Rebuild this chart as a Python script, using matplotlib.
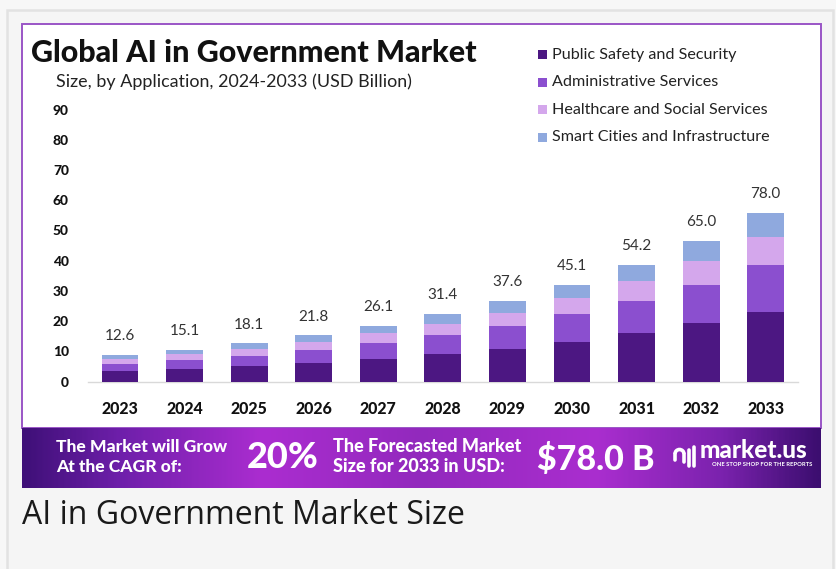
import matplotlib
matplotlib.use("Agg")
import matplotlib.pyplot as plt
import numpy as np
from matplotlib.patches import Rectangle, Arc
from matplotlib.lines import Line2D
from matplotlib.colors import LinearSegmentedColormap

# ---------------- data ----------------
years = ['2023', '2024', '2025', '2026', '2027', '2028', '2029', '2030', '2031', '2032', '2033']
public_safety = [3.6, 4.2, 5.1, 6.2, 7.5, 9.1, 10.9, 13.1, 16.1, 19.3, 23.1]
administrative = [2.3, 3.1, 3.5, 4.3, 5.2, 6.3, 7.5, 9.2, 10.6, 12.8, 15.4]
healthcare = [1.6, 1.8, 2.3, 2.75, 3.3, 3.6, 4.4, 5.4, 6.5, 7.8, 9.3]
smart_cities = [1.3, 1.4, 1.8, 2.1, 2.4, 3.4, 3.9, 4.4, 5.4, 6.6, 8.0]
total_labels = ['12.6', '15.1', '18.1', '21.8', '26.1', '31.4', '37.6', '45.1', '54.2', '65.0', '78.0']
series_names = ['Public Safety and Security', 'Administrative Services',
                'Healthcare and Social Services', 'Smart Cities and Infrastructure']
yticks = [0, 10, 20, 30, 40, 50, 60, 70, 80, 90]

colors = ['#4c1782', '#8b4fcf', '#d4a7ec', '#8fa9de']

FONT = ['Lato', 'DejaVu Sans']
plt.rcParams['font.family'] = FONT

W, H = 836, 569
fig = plt.figure(figsize=(W / 100, H / 100), dpi=100)
fig.patch.set_facecolor('#f7f7f7')


def fx(px):
    return px / W


def fy(py):
    return 1 - py / H


def frect(x0, y0, x1, y1, **kw):
    r = Rectangle((fx(x0), fy(y1)), fx(x1) - fx(x0), (y1 - y0) / H,
                  transform=fig.transFigure, **kw)
    fig.patches.append(r)
    return r


# outer card
frect(7, 10, 833, 575, facecolor='#f5f5f5', edgecolor='#e2e2e2', linewidth=1.8, zorder=0)
# white chart image with purple border
frect(22, 24, 821, 428, facecolor='white', edgecolor='#9a55c6', linewidth=1.4, zorder=1)

# ---------------- bar chart ----------------
ax_left, ax_right, ax_bottom, ax_top = 87.7, 798, 381.7, 109.5
ax = fig.add_axes([fx(ax_left), fy(ax_bottom), fx(ax_right) - fx(ax_left), (ax_bottom - ax_top) / H])
ax.set_zorder(4)
ax.set_facecolor('none')
x = np.arange(len(years))
bottom = np.zeros(len(years))
for vals, c, name in zip([public_safety, administrative, healthcare, smart_cities], colors, series_names):
    ax.bar(x, vals, width=0.57, bottom=bottom, color=c, label=name, zorder=3)
    bottom += np.array(vals)

for xi, top, lab in zip(x, bottom, total_labels):
    ax.annotate(lab, (xi, top), xytext=(0, 13.5), textcoords='offset points',
                ha='center', va='center', fontsize=11, color='#333333')

ax.set_xlim(-0.5, 10.5)
ax.set_ylim(0, 90)
ax.set_yticks(yticks)
ax.set_yticklabels([str(t) for t in yticks], fontsize=10, fontweight='black', color='#111111')
ax.set_xticks(x)
ax.set_xticklabels(years, fontsize=11.5, fontweight='black', color='#111111')
ax.tick_params(axis='y', length=0, pad=13.5)
ax.tick_params(axis='x', length=0, pad=14)
for s in ['top', 'right', 'left']:
    ax.spines[s].set_visible(False)
ax.spines['bottom'].set_color('#d9d9d9')
ax.spines['bottom'].set_linewidth(1.0)

# ---------------- titles ----------------
fig.text(fx(31), fy(53), 'Global AI in Government Market', fontsize=22, fontweight='black',
         color='#111111', ha='left', va='center', zorder=5)
fig.text(fx(56), fy(82), 'Size, by Application, 2024-2033 (USD Billion)', fontsize=12.9,
         color='#222222', ha='left', va='center', zorder=5)

# ---------------- legend ----------------
leg_rows = [54.5, 82.3, 110, 137.3]
for yy, c, name in zip(leg_rows, colors, series_names):
    frect(537.5, yy - 4.5, 546.5, yy + 4.5, facecolor=c, edgecolor='none', zorder=5)
    fig.text(fx(551.5), fy(yy), name, fontsize=11.6, color='#222222', ha='left', va='center', zorder=5)

# ---------------- banner ----------------
bx0, by0, bx1, by1 = 22, 428, 821, 488
bax = fig.add_axes([fx(bx0), fy(by1), fx(bx1) - fx(bx0), (by1 - by0) / H])
bax.set_zorder(3)
cmap = LinearSegmentedColormap.from_list('banner', [
    (0.0, '#3f1078'), (0.12, '#6e1faa'), (0.3, '#ab2dd0'), (0.5, '#9229bd'),
    (0.72, '#aa2ecf'), (0.88, '#7a22ad'), (1.0, '#3c0e70')])
grad = np.linspace(0, 1, 400).reshape(1, -1)
bax.imshow(grad, aspect='auto', cmap=cmap, extent=[0, 1, 0, 1])
bax.set_axis_off()

bt = dict(fontweight='black', color='white', ha='left', va='center', zorder=6)
fig.text(fx(56), fy(447), 'The Market will Grow', fontsize=12.6, **bt)
fig.text(fx(56), fy(467), 'At the CAGR of:', fontsize=12.6, **bt)
fig.text(fx(247), fy(458), '20%', fontsize=26, **bt)
fig.text(fx(333), fy(446), 'The Forecasted Market', fontsize=13, **bt)
fig.text(fx(333), fy(467), 'Size for 2033 in USD:', fontsize=13, **bt)
fig.text(fx(537), fy(459), '$78.0 B', fontsize=24.5, **bt)

# logo icon (simple strokes)
ic = dict(color='white', linewidth=2.6, solid_capstyle='round', transform=fig.transFigure, zorder=7)
fig.add_artist(Arc((fx(679.5), fy(454)), 9 / W, 9 / H, theta1=0, theta2=180,
                   color='white', linewidth=2.6, transform=fig.transFigure, zorder=7))
fig.add_artist(Line2D([fx(675), fx(675)], [fy(454), fy(460)], **ic))
fig.add_artist(Line2D([fx(684), fx(684)], [fy(454), fy(462)], **ic))
fig.add_artist(Line2D([fx(689), fx(689)], [fy(450), fy(466)], **ic))
fig.add_artist(Line2D([fx(694), fx(694)], [fy(447), fy(466)], **ic))
fig.add_artist(Line2D([fx(670), fx(670)], [fy(452.5), fy(453)], **ic))

fig.text(fx(700), fy(451), 'market.us', fontsize=17.5, fontweight='black',
         color='white', ha='left', va='center', zorder=6)
fig.text(fx(712), fy(465), 'ONE STOP SHOP FOR THE REPORTS', fontsize=4.2, fontweight='bold',
         color='white', ha='left', va='center', zorder=6)

# ---------------- caption ----------------
fig.text(fx(22), fy(516), 'AI in Government Market Size', fontsize=23,
         family=['Open Sans', 'DejaVu Sans'], color='#1a1a1a', ha='left', va='center', zorder=6)

fig.savefig('out.png', dpi=100, facecolor=fig.get_facecolor())
